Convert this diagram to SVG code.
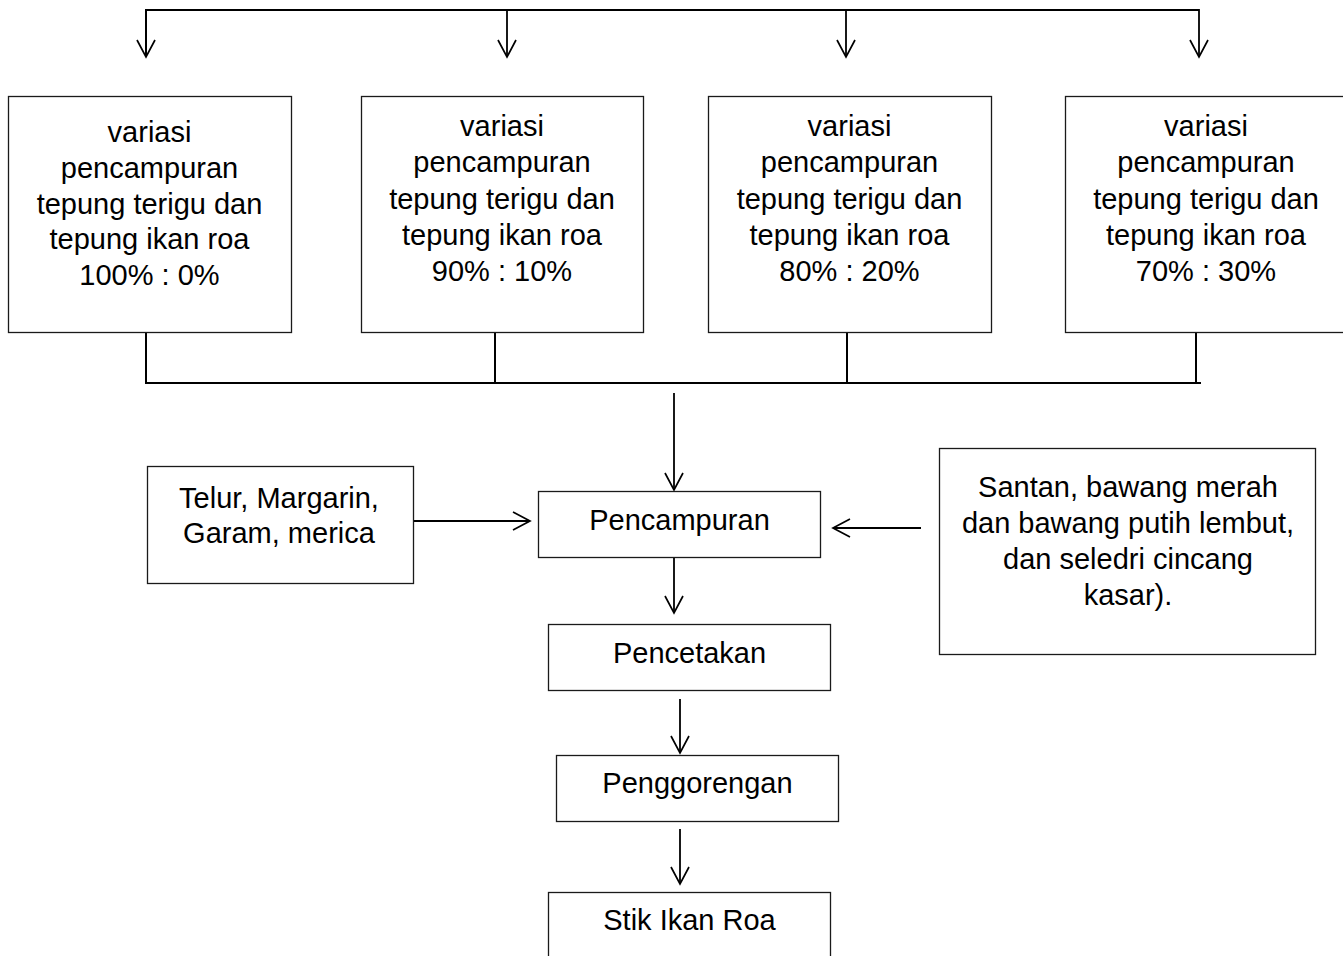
<svg xmlns="http://www.w3.org/2000/svg" width="1343" height="956" viewBox="0 0 1343 956">
<style>
.box{fill:#fff;stroke:#1a1a1a;stroke-width:1.3}
.t{font-family:"Liberation Sans",Arial,sans-serif;font-size:29px;fill:#000;text-anchor:middle}
.ln{fill:none;stroke:#000;stroke-width:2}
.ar{fill:none;stroke:#000;stroke-width:1.8;marker-end:url(#v)}
</style>
<defs>
<marker id="v" viewBox="0 0 20 20" refX="18" refY="10" markerWidth="20" markerHeight="20" markerUnits="userSpaceOnUse" orient="auto">
<path d="M1,1 L18,10 L1,19" fill="none" stroke="#000" stroke-width="1.7"/>
</marker>
</defs>
<rect width="1343" height="956" fill="#fff"/>
<g id="connectors">
<polyline class="ln" points="146,57 146,10 1199,10"/>
<line class="ar" x1="146" y1="10" x2="146" y2="57"/>
<line class="ar" x1="507" y1="10" x2="507" y2="57"/>
<line class="ar" x1="846" y1="10" x2="846" y2="57"/>
<line class="ar" x1="1199" y1="9" x2="1199" y2="57"/>
<line class="ln" x1="146" y1="332" x2="146" y2="383"/>
<line class="ln" x1="495" y1="332" x2="495" y2="383"/>
<line class="ln" x1="847" y1="332" x2="847" y2="383"/>
<line class="ln" x1="1196" y1="332" x2="1196" y2="383"/>
<line class="ln" x1="145" y1="383" x2="1201" y2="383"/>
<line class="ar" x1="674" y1="393" x2="674" y2="490"/>
<line class="ar" x1="414" y1="521" x2="530" y2="521"/>
<line class="ar" x1="921" y1="528" x2="833" y2="528"/>
<line class="ar" x1="674" y1="557" x2="674" y2="613"/>
<line class="ar" x1="680" y1="699" x2="680" y2="753"/>
<line class="ar" x1="680" y1="829" x2="680" y2="884"/>
</g>
<g id="v100">
<rect class="box" x="8.5" y="96.5" width="283" height="236"/>
<text class="t" x="149.5" y="142">variasi</text>
<text class="t" x="149.5" y="178">pencampuran</text>
<text class="t" x="149.5" y="213.5">tepung terigu dan</text>
<text class="t" x="149.5" y="249">tepung ikan roa</text>
<text class="t" x="149.5" y="285">100% : 0%</text>
</g>
<g id="v90">
<rect class="box" x="361.5" y="96.5" width="282" height="236"/>
<text class="t" x="502" y="135.5">variasi</text>
<text class="t" x="502" y="172">pencampuran</text>
<text class="t" x="502" y="208.5">tepung terigu dan</text>
<text class="t" x="502" y="244.5">tepung ikan roa</text>
<text class="t" x="502" y="280.5">90% : 10%</text>
</g>
<g id="v80">
<rect class="box" x="708.5" y="96.5" width="283" height="236"/>
<text class="t" x="849.5" y="135.5">variasi</text>
<text class="t" x="849.5" y="172">pencampuran</text>
<text class="t" x="849.5" y="208.5">tepung terigu dan</text>
<text class="t" x="849.5" y="244.5">tepung ikan roa</text>
<text class="t" x="849.5" y="280.5">80% : 20%</text>
</g>
<g id="v70">
<rect class="box" x="1065.5" y="96.5" width="283" height="236"/>
<text class="t" x="1206" y="135.5">variasi</text>
<text class="t" x="1206" y="172">pencampuran</text>
<text class="t" x="1206" y="208.5">tepung terigu dan</text>
<text class="t" x="1206" y="244.5">tepung ikan roa</text>
<text class="t" x="1206" y="280.5">70% : 30%</text>
</g>
<g id="telur">
<rect class="box" x="147.5" y="466.5" width="266" height="117"/>
<text class="t" x="279" y="508">Telur, Margarin,</text>
<text class="t" x="279" y="543">Garam, merica</text>
</g>
<g id="santan">
<rect class="box" x="939.5" y="448.5" width="376" height="206"/>
<text class="t" x="1128" y="497">Santan, bawang merah</text>
<text class="t" x="1128" y="533">dan bawang putih lembut,</text>
<text class="t" x="1128" y="569">dan seledri cincang</text>
<text class="t" x="1128" y="605">kasar).</text>
</g>
<g id="pencampuran">
<rect class="box" x="538.5" y="491.5" width="282" height="66"/>
<text class="t" x="679.5" y="530">Pencampuran</text>
</g>
<g id="pencetakan">
<rect class="box" x="548.5" y="624.5" width="282" height="66"/>
<text class="t" x="689.5" y="663">Pencetakan</text>
</g>
<g id="penggorengan">
<rect class="box" x="556.5" y="755.5" width="282" height="66"/>
<text class="t" x="697.5" y="793">Penggorengan</text>
</g>
<g id="stik">
<rect class="box" x="548.5" y="892.5" width="282" height="70"/>
<text class="t" x="689.5" y="930">Stik Ikan Roa</text>
</g>
</svg>
